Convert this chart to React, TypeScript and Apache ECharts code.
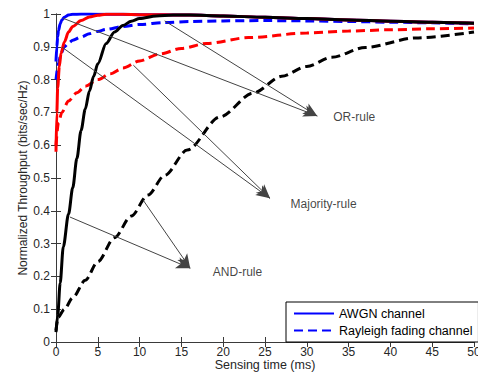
import React, { useEffect, useRef } from "react";
import * as echarts from "echarts";

// ---- Axis tick labels ----
const xTickLabels = ["0", "5", "10", "15", "20", "25", "30", "35", "40", "45", "50"];
const yTickLabels = ["0", "0.1", "0.2", "0.3", "0.4", "0.5", "0.6", "0.7", "0.8", "0.9", "1"];

// ---- Series values (sensing time in ms, normalized throughput) ----
// AWGN channel, OR-rule (blue solid)
const awgnOrT = [0, 0.1, 0.2, 0.3, 0.5, 0.7, 1, 1.5, 2, 3, 4, 6, 8, 10, 12, 14, 16, 20, 25, 30, 35, 40, 45, 50];
const awgnOrV = [0.855, 0.9, 0.93, 0.95, 0.97, 0.982, 0.99, 0.997, 0.999, 1.0, 1.0, 0.999, 0.999, 0.998, 0.998, 0.997, 0.997, 0.994, 0.99, 0.986, 0.982, 0.978, 0.975, 0.972];

// Rayleigh fading channel, OR-rule (blue dashed)
const rayOrT = [0, 0.3, 0.6, 1, 1.5, 2, 3, 4, 5, 6, 8, 10, 13, 16, 20, 25, 30, 35, 40, 45, 50];
const rayOrV = [0.8, 0.85, 0.88, 0.9, 0.912, 0.92, 0.93, 0.94, 0.947, 0.953, 0.962, 0.968, 0.974, 0.977, 0.979, 0.98, 0.979, 0.977, 0.975, 0.973, 0.97];

// AWGN channel, Majority-rule (red solid)
const awgnMajT = [0, 0.1, 0.2, 0.4, 0.6, 1, 1.5, 2, 3, 4, 5, 6, 8, 10, 12, 14, 16, 20, 25, 30, 35, 40, 45, 50];
const awgnMajV = [0.58, 0.7, 0.775, 0.84, 0.88, 0.915, 0.945, 0.962, 0.98, 0.991, 0.996, 0.999, 0.999, 0.998, 0.998, 0.997, 0.997, 0.994, 0.99, 0.986, 0.982, 0.978, 0.975, 0.972];

// Rayleigh fading channel, Majority-rule (red dashed)
const rayMajT = [0, 0.3, 0.7, 1.5, 2.5, 3.5, 5, 6.5, 8, 10, 12.4, 15, 18, 23, 30, 35, 40, 45, 50];
const rayMajV = [0.6, 0.67, 0.7, 0.735, 0.76, 0.78, 0.8, 0.818, 0.835, 0.857, 0.878, 0.895, 0.91, 0.928, 0.942, 0.948, 0.952, 0.955, 0.957];

// AWGN channel, AND-rule (black solid)
const awgnAndT = [0, 0.2, 0.5, 0.87, 1.5, 2, 2.5, 3, 3.5, 4, 4.5, 5, 6, 7, 8, 9, 10, 12, 14, 16, 20, 25, 30, 35, 40, 45, 50];
const awgnAndV = [0.03, 0.08, 0.18, 0.29, 0.39, 0.47, 0.56, 0.645, 0.71, 0.765, 0.81, 0.848, 0.91, 0.945, 0.965, 0.978, 0.986, 0.994, 0.997, 0.997, 0.994, 0.99, 0.986, 0.982, 0.978, 0.975, 0.972];

// Rayleigh fading channel, AND-rule (black dashed)
const rayAndT = [0, 0.25, 1, 2, 3.5, 5, 7, 9, 11, 13, 15.7, 19.6, 23.6, 27, 30, 33, 37, 43, 50];
const rayAndV = [0.035, 0.075, 0.1, 0.135, 0.188, 0.245, 0.318, 0.384, 0.448, 0.508, 0.585, 0.686, 0.759, 0.81, 0.84, 0.868, 0.898, 0.927, 0.945];

// ---- Annotations (data coordinates) ----
const annotationLabels = ["OR-rule", "Majority-rule", "AND-rule"];
const annotationT = [33.1, 28.0, 18.7];
const annotationV = [0.686, 0.42, 0.213];
const arrowTipT = [31.25, 25.6, 16.05];
const arrowTipV = [0.689, 0.438, 0.225];
// two arrow tails for each rule
const arrowTailT = [
  [0.84, 13.0],
  [0.72, 9.25],
  [1.67, 10.44],
];
const arrowTailV = [
  [0.987, 0.979],
  [0.899, 0.844],
  [0.381, 0.432],
];

const FONT = "'Liberation Sans', Arial, sans-serif";

function pairs(t: number[], v: number[]) {
  return t.map((x, i) => [x, v[i]]);
}

export default function App() {
  const ref = useRef<HTMLDivElement>(null);

  useEffect(() => {
    if (!ref.current) return;
    const chart = echarts.init(ref.current, undefined, { renderer: "svg" });

    const dash = [9, 5];
    const lineSeries = (
      name: string,
      t: number[],
      v: number[],
      color: string,
      dashed: boolean
    ) => ({
      type: "line",
      name,
      data: pairs(t, v),
      symbol: "none",
      showSymbol: false,
      smooth: 0.3,
      smoothMonotone: "x",
      lineStyle: { color, width: 3, type: dashed ? dash : "solid", cap: "butt" },
      itemStyle: { color },
      emphasis: { disabled: true },
      silent: true,
    });

    const markLineData: any[] = [];
    arrowTailT.forEach((tails, i) => {
      tails.forEach((tt, j) => {
        markLineData.push([
          { coord: [tt, arrowTailV[i][j]] },
          { coord: [arrowTipT[i], arrowTipV[i]] },
        ]);
      });
    });

    const axisColor = "#3a3a3a";
    const labelColor = "#262626";

    chart.setOption({
      animation: false,
      backgroundColor: "#ffffff",
      grid: {
        left: 56,
        right: 4,
        top: 14,
        bottom: 35,
        containLabel: false,
        outerBoundsMode: "none",
      },
      legend: {
        data: ["AWGN channel", "Rayleigh fading channel"],
        orient: "vertical",
        left: 286,
        top: 302,
        padding: [5, 6, 5, 7],
        itemWidth: 40,
        itemHeight: 14,
        itemGap: 4,
        backgroundColor: "#ffffff",
        borderColor: "#000000",
        borderWidth: 1,
        borderRadius: 0,
        itemStyle: { opacity: 0, color: "rgba(0,0,0,0)", borderWidth: 0 },
        textStyle: { fontFamily: FONT, fontSize: 12.5, color: "#000" },
        selectedMode: false,
      },
      xAxis: [
        {
          type: "value",
          min: 0,
          max: 50,
          interval: 5,
          position: "bottom",
          name: "Sensing time (ms)",
          nameLocation: "middle",
          nameGap: 17,
          nameMoveOverlap: false,
          nameTextStyle: { fontFamily: FONT, fontSize: 12.5, lineHeight: 12, color: labelColor },
          axisLine: { show: true, lineStyle: { color: axisColor, width: 1 } },
          axisTick: { show: true, inside: true, length: 5, lineStyle: { color: axisColor } },
          axisLabel: {
            fontFamily: FONT,
            fontSize: 12,
            lineHeight: 12,
            color: labelColor,
            margin: 4,
            formatter: (_v: number, i: number) => xTickLabels[i] ?? "",
          },
          splitLine: { show: false },
        },
        {
          type: "value",
          min: 0,
          max: 50,
          interval: 5,
          position: "top",
          axisLine: { show: true, lineStyle: { color: axisColor, width: 1 } },
          axisTick: { show: true, inside: true, length: 5, lineStyle: { color: axisColor } },
          axisLabel: { show: false },
          splitLine: { show: false },
        },
      ],
      yAxis: [
        {
          type: "value",
          min: 0,
          max: 1,
          interval: 0.1,
          position: "left",
          name: "Normalized Throughput (bits/sec/Hz)",
          nameLocation: "middle",
          nameGap: 27,
          nameMoveOverlap: false,
          nameTextStyle: { fontFamily: FONT, fontSize: 12, color: labelColor },
          axisLine: { show: true, lineStyle: { color: axisColor, width: 1 } },
          axisTick: { show: true, inside: true, length: 5, lineStyle: { color: axisColor } },
          axisLabel: {
            fontFamily: FONT,
            fontSize: 12,
            color: labelColor,
            margin: 6,
            formatter: (_v: number, i: number) => yTickLabels[i] ?? "",
          },
          splitLine: { show: false },
        },
        {
          type: "value",
          min: 0,
          max: 1,
          interval: 0.1,
          position: "right",
          axisLine: { show: true, lineStyle: { color: axisColor, width: 1 } },
          axisTick: { show: true, inside: true, length: 5, lineStyle: { color: axisColor } },
          axisLabel: { show: false },
          splitLine: { show: false },
        },
      ],
      series: [
        lineSeries("Rayleigh fading channel", rayOrT, rayOrV, "#0000ff", true),
        lineSeries("AWGN channel", awgnOrT, awgnOrV, "#0000ff", false),
        lineSeries("Rayleigh majority", rayMajT, rayMajV, "#ff0000", true),
        lineSeries("AWGN majority", awgnMajT, awgnMajV, "#ff0000", false),
        lineSeries("Rayleigh AND", rayAndT, rayAndV, "#000000", true),
        lineSeries("AWGN AND", awgnAndT, awgnAndV, "#000000", false),
        {
          type: "scatter",
          name: "annotations",
          data: annotationLabels.map((n, i) => ({
            name: n,
            value: [annotationT[i], annotationV[i]],
          })),
          symbolSize: 1,
          itemStyle: { color: "rgba(0,0,0,0)" },
          silent: true,
          label: {
            show: true,
            position: "right",
            distance: 0,
            formatter: (p: any) => p.name,
            fontFamily: FONT,
            fontSize: 12,
            color: "#111",
          },
          emphasis: { disabled: true },
          markLine: {
            silent: true,
            symbol: ["none", "arrow"],
            symbolSize: [9, 14],
            label: { show: false },
            lineStyle: { color: "#444", width: 1, type: "solid" },
            itemStyle: { color: "#000" },
            emphasis: { disabled: true },
            data: markLineData,
          },
          z: 5,
        },
      ],
    });

    return () => chart.dispose();
  }, []);

  return (
    <div
      ref={ref}
      style={{ position: "fixed", left: 0, top: 0, width: 478, height: 377, background: "#fff" }}
    />
  );
}
